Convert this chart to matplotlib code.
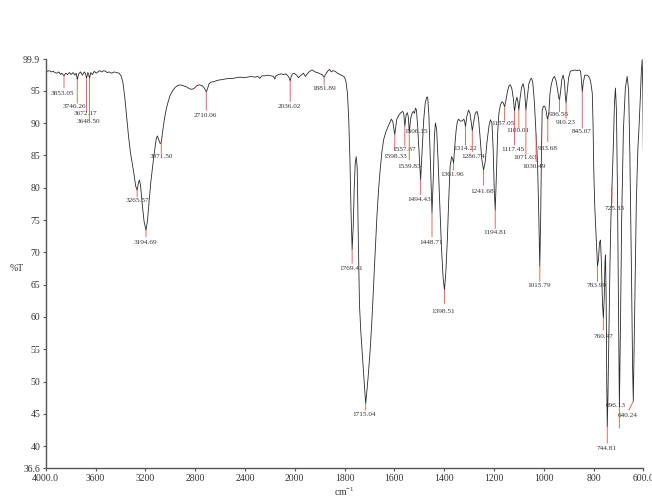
import numpy as np
import matplotlib
matplotlib.use('Agg')
import matplotlib.pyplot as plt

# spectrum: wavenumber (cm-1) and %T
wavenumber = [
    4000, 3985, 3970, 3955, 3940, 3925, 3910, 3895, 3880, 3870, 3853.05, 3840,
    3825, 3810, 3795, 3780, 3765, 3755, 3746.26, 3735, 3720, 3705, 3690, 3680,
    3672.17, 3662, 3655, 3648.50, 3638, 3625, 3610, 3595, 3580, 3565, 3550, 3535,
    3520, 3505, 3490, 3470, 3450, 3430, 3410, 3395, 3380, 3365, 3350, 3335, 3320,
    3305, 3290, 3278, 3265.57, 3255, 3247, 3238, 3225, 3210, 3194.69, 3182, 3170,
    3155, 3140, 3125, 3112, 3103, 3092, 3080, 3071.50, 3060, 3045, 3030, 3015,
    3000, 2980, 2960, 2940, 2920, 2900, 2870, 2845, 2825, 2805, 2785, 2765, 2745,
    2730, 2720, 2710.06, 2700, 2690, 2675, 2650, 2620, 2590, 2560, 2530, 2500,
    2470, 2440, 2410, 2380, 2350, 2320, 2295, 2280, 2265, 2240, 2215, 2190, 2170,
    2160, 2150, 2130, 2110, 2090, 2070, 2055, 2045, 2036.02, 2028, 2018, 2005,
    1992, 1985, 1975, 1965, 1957, 1950, 1940, 1930, 1918, 1908, 1898, 1890,
    1881.89, 1875, 1866, 1860, 1853, 1846, 1838, 1828, 1818, 1808, 1800, 1794,
    1788, 1783, 1778, 1774, 1769.41, 1765, 1761, 1757, 1753, 1749, 1745, 1740,
    1735, 1730, 1725, 1720, 1715.04, 1710, 1705, 1697, 1690, 1684, 1677, 1670,
    1663, 1657, 1650, 1643, 1635, 1628, 1620, 1612, 1606, 1598.33, 1590, 1582,
    1574, 1566, 1562, 1557.87, 1553, 1548, 1544, 1539.83, 1535, 1530, 1524, 1519,
    1515, 1511, 1506.15, 1500, 1494.43, 1488, 1482, 1476, 1470, 1466, 1461, 1455,
    1448.71, 1443, 1439, 1435, 1430, 1424, 1418, 1411, 1404, 1398.51, 1393, 1387,
    1382, 1376, 1370, 1366, 1361.96, 1357, 1352, 1347, 1342, 1335, 1328, 1321,
    1318, 1314.22, 1309, 1302, 1296, 1290, 1286.74, 1282, 1275, 1268, 1262, 1256,
    1249, 1241.68, 1235, 1228, 1220, 1214, 1208, 1203, 1199, 1194.81, 1190, 1185,
    1180, 1174, 1167, 1162, 1157.05, 1152, 1145, 1139, 1134, 1128, 1122, 1117.45,
    1112, 1108, 1104, 1100.01, 1095, 1089, 1083, 1077, 1071.63, 1066, 1060, 1053,
    1049, 1044, 1038, 1033, 1030.49, 1025, 1020, 1015.79, 1012, 1009, 1006, 1001,
    996, 991, 986, 983.68, 979, 975, 970, 963, 957, 950, 944, 939, 936.58, 932,
    927, 922, 917, 913, 910.23, 906, 900, 893, 885, 875, 865, 858, 852, 849,
    845.07, 841, 835, 828, 822, 815, 810, 805, 802, 799, 795, 790, 786, 783.99,
    780, 776, 772, 768, 764, 760.47, 757, 754, 752, 749, 747, 744.81, 742, 738,
    734, 730, 725.83, 720, 716, 712, 708, 704, 700, 696.13, 692, 687, 680, 672,
    665, 659, 654, 648, 643, 640.24, 635, 628, 622, 618, 612, 608, 604.6, 602, 600,
]
transmittance = [
    98.2, 98.0, 98.1, 97.9, 98.0, 97.8, 97.7, 97.9, 97.5, 97.7, 97.3, 97.7,
    97.5, 97.8, 97.5, 97.8, 97.4, 97.7, 96.7, 97.6, 97.9, 97.4, 97.9, 97.6,
    96.9, 97.8, 97.6, 96.9, 97.8, 97.5, 98.0, 97.7, 97.9, 98.1, 97.9, 98.1,
    98.0, 97.8, 97.9, 97.7, 97.9, 97.8, 97.7, 97.3, 96.3, 94.0, 91.0, 88.0, 85.5,
    83.8, 82.0, 80.3, 79.6, 80.8, 81.2, 80.3, 77.5, 74.8, 73.4, 75.0, 77.8,
    81.0, 83.5, 85.8, 87.6, 88.0, 87.4, 86.8, 87.0, 88.8, 90.8, 92.3, 93.4,
    94.3, 95.0, 95.5, 95.8, 95.9, 95.8, 95.6, 95.3, 95.2, 95.4, 95.8, 95.9, 95.8,
    95.5, 95.2, 94.8, 95.3, 96.0, 96.3, 96.4, 96.6, 96.7, 96.8, 96.9, 96.9,
    97.0, 97.1, 97.0, 97.1, 97.2, 97.1, 97.2, 96.9, 97.3, 97.3, 97.4, 97.3, 97.2,
    96.8, 97.3, 97.5, 97.6, 97.5, 97.6, 97.3, 97.0, 96.5, 97.2, 97.6, 97.7,
    97.4, 97.0, 97.4, 97.7, 97.2, 97.6, 98.0, 98.2, 97.9, 97.8, 97.6, 97.5,
    97.1, 97.6, 98.1, 98.3, 97.9, 98.1, 98.0, 97.7, 97.5, 97.3, 97.1, 96.4,
    94.5, 90.5, 84.0, 76.5, 70.4, 74.0, 80.0, 83.8, 84.8, 83.0, 73.0, 62.0,
    58.0, 55.0, 52.2, 49.3, 46.6, 48.6, 50.8, 54.9, 59.5, 64.2, 70.0, 75.5,
    79.8, 82.7, 85.5, 87.4, 88.5, 89.2, 89.9, 90.6, 90.2, 88.2, 90.6, 91.2,
    91.6, 91.8, 91.4, 89.5, 91.2, 91.6, 91.0, 88.5, 90.5, 91.4, 91.8, 91.5,
    92.3, 92.0, 89.3, 85.0, 81.2, 86.0, 90.5, 93.0, 94.0, 94.0, 91.0, 84.0,
    76.1, 82.0, 88.0, 90.0, 89.0, 84.0, 78.0, 71.0, 66.0, 64.2, 67.0, 72.0,
    77.6, 83.3, 84.8, 84.5, 83.8, 86.5, 88.8, 90.2, 90.6, 90.3, 90.3, 90.6,
    90.3, 89.4, 91.0, 92.0, 91.5, 89.8, 88.8, 90.0, 91.5, 91.8, 90.8, 88.0,
    84.5, 82.7, 84.0, 87.0, 89.5, 90.5, 90.0, 86.0, 80.0, 76.5, 82.0, 88.5,
    91.5, 92.8, 93.3, 93.1, 92.5, 93.5, 95.0, 95.8, 95.9, 95.3, 93.8, 91.8,
    93.3, 94.0, 93.4, 92.0, 93.8, 95.5, 96.1, 95.0, 92.0, 94.0, 96.0, 96.8,
    96.9, 96.3, 93.5, 89.8, 88.2, 84.0, 76.0, 67.8, 76.0, 86.0, 92.0, 92.6,
    92.6, 92.0, 90.8, 90.6, 91.8, 94.5, 95.9, 96.9, 97.2, 96.5, 95.0, 93.8, 93.6, 95.0,
    96.8, 97.4, 96.5, 94.0, 93.1, 94.8, 97.0, 98.0, 98.1, 98.2, 98.1, 98.2, 98.0, 96.8,
    94.8, 96.3, 97.4, 97.4, 97.3, 96.9, 96.0, 94.6, 90.0, 82.7, 77.0, 73.0, 69.5, 67.8,
    69.0, 71.5, 71.9, 68.0, 62.0, 59.8, 63.0, 68.5, 69.6, 62.0, 50.0, 43.0, 48.0, 58.0,
    68.0, 75.5, 80.2, 87.0, 93.0, 95.4, 92.0, 80.0, 62.0, 46.0, 58.0, 75.0, 89.0, 95.5,
    97.2, 95.0, 85.0, 68.0, 52.0, 47.0, 60.0, 78.0, 86.0, 88.8, 94.0, 98.0, 99.8, 95.0, 85.8,
]

# labelled peaks
peak_wn = [3853.05, 3746.26, 3672.17, 3648.50, 3265.57, 3194.69, 3071.50,
           2710.06, 2036.02, 1881.89, 1769.41, 1715.04, 1598.33, 1557.87,
           1539.83, 1506.15, 1494.43, 1448.71, 1398.51, 1361.96, 1314.22,
           1286.74, 1241.68, 1194.81, 1157.05, 1117.45, 1100.01, 1071.63,
           1030.49, 1015.79, 983.68, 936.58, 910.23, 845.07, 783.99, 760.47,
           744.81, 725.83, 696.13, 640.24]

x_ticks = [4000, 3600, 3200, 2800, 2400, 2000, 1800, 1600, 1400, 1200, 1000, 800, 600]
x_tick_labels = ['4000.0', '3600', '3200', '2800', '2400', '2000', '1800',
                 '1600', '1400', '1200', '1000', '800', '600.0']
y_ticks = [36.6, 40, 45, 50, 55, 60, 65, 70, 75, 80, 85, 90, 95, 99.9]
y_tick_labels = ['36.6', '40', '45', '50', '55', '60', '65', '70', '75', '80',
                 '85', '90', '95', '99.9']

# label layout: end of red marker line (%T), text centre (%T), text x shift (px), line x shift (px)
line_end = [95.4, 93.05, 91.75, 90.7, 78.6, 72.4, 85.3, 92.0, 93.3, 95.9, 68.3,
            45.6, 85.9, 86.45, 84.3, 89.2, 78.9, 72.4, 62.1, 82.7, 86.6, 85.6,
            80.4, 73.7, 90.4, 86.6, 89.2, 85.1, 84.0, 65.5, 87.1, 91.75, 90.7,
            89.2, 65.5, 58.0, 40.5, 77.6, 42.8, 45.6]
text_t = [94.6, 92.5, 91.4, 90.2, 78.0, 71.5, 84.8, 91.2, 92.5, 95.4, 67.5,
          44.95, 84.8, 85.9, 83.35, 88.66, 78.1, 71.5, 60.8, 82.07, 86.1, 84.8,
          79.4, 73.0, 89.96, 85.98, 88.77, 84.64, 83.35, 64.8, 86.1, 91.35, 90.1,
          88.66, 64.8, 56.95, 39.7, 76.8, 46.24, 44.84]
text_dx = [-2, -3, -1, -1, 0, -1, 0, -1, -1, 0, -1, -1.5, 0.7, -0.7, -0.3, -1.3,
           -1.3, -1, -1.7, -1, 0, 0.7, -1, 0, -1.7, -1.7, -0.7, -1, -1.7, -0.7,
           0, -0.7, -0.7, -1, -0.7, 0, -0.7, 2.3, -3.3, -6]
line_dx = [0] * 39 + [-4.4]


def fwd(w):
    w = np.asarray(w, dtype=float)
    return np.where(w > 2000, 2000 + (w - 2000) / 2, w)


def inv(u):
    u = np.asarray(u, dtype=float)
    return np.where(u > 2000, 2000 + (u - 2000) * 2, u)


def main():
    plt.rcParams['font.family'] = 'Liberation Serif'
    plt.rcParams['mathtext.default'] = 'regular'

    fig = plt.figure(figsize=(6.52, 5.03), dpi=100)
    ax = fig.add_axes([0.0701, 0.069, 0.9166, 0.8137])

    ax.set_xscale('function', functions=(fwd, inv))
    ax.plot(wavenumber, transmittance, color='#2a2a2a', lw=0.6)

    red = '#e06a66'
    px = 72 / fig.dpi
    for i, w in enumerate(peak_wn):
        t = np.interp(w, wavenumber[::-1], transmittance[::-1])
        ax.annotate('', xy=(w, t), xycoords='data',
                    xytext=(line_dx[i] * px, line_end[i]),
                    textcoords=('offset points', 'data'),
                    arrowprops=dict(arrowstyle='-', color=red, lw=0.7,
                                    shrinkA=0, shrinkB=0))
        ax.annotate('%.2f' % w, xy=(w, text_t[i]), xytext=(text_dx[i] * px, 0),
                    textcoords='offset points', ha='center', va='center',
                    fontsize=5.2, color='#333333')

    ax.set_xlim(4000, 600)
    ax.set_ylim(36.6, 99.9)
    ax.set_xticks(x_ticks)
    ax.set_xticklabels(x_tick_labels)
    ax.xaxis.set_minor_locator(matplotlib.ticker.NullLocator())
    ax.set_yticks(y_ticks)
    ax.set_yticklabels(y_tick_labels)

    for side in ['top', 'right']:
        ax.spines[side].set_visible(False)
    for side in ['left', 'bottom']:
        ax.spines[side].set_color('#555555')
        ax.spines[side].set_linewidth(1.0)
    ax.tick_params(axis='both', direction='out', length=2.5, width=0.8,
                   color='#555555', labelsize=7, labelcolor='#333333', pad=1.5)

    ax.set_ylabel('%T', rotation=0, fontsize=7, color='#333333',
                  ha='center', va='center')
    ax.yaxis.set_label_coords(-0.048, 0.487)
    ax.set_xlabel('cm$^{-1}$', fontsize=7, color='#333333', va='center')
    ax.xaxis.set_label_coords(0.5, -0.057)

    fig.savefig('out.png', dpi=100)


if __name__ == '__main__':
    main()
